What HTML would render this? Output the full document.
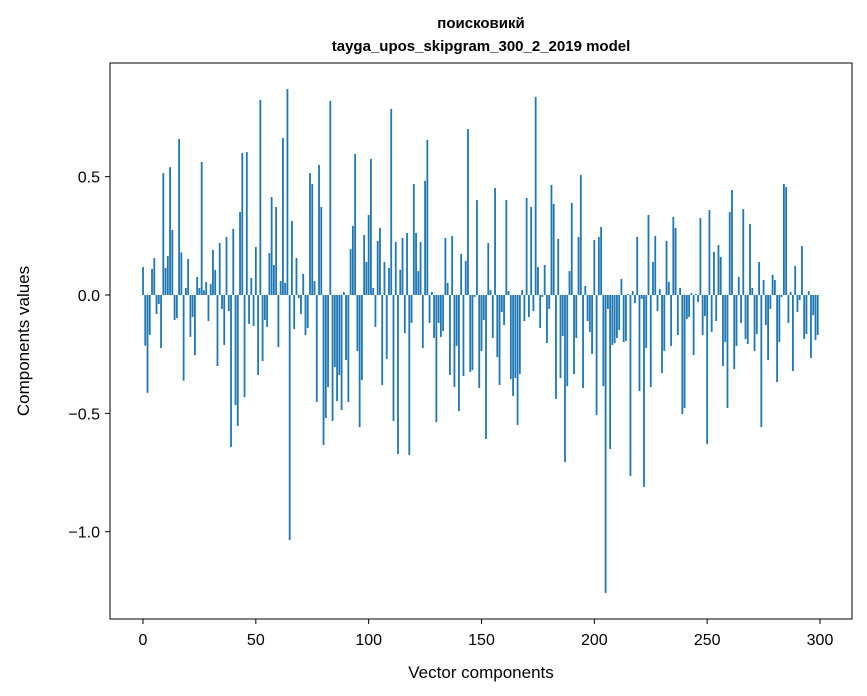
<!DOCTYPE html>
<html><head><meta charset="utf-8"><style>
html,body{margin:0;padding:0;background:#fff;}
svg{display:block;font-family:"Liberation Sans","DejaVu Sans",sans-serif;}
</style></head><body>
<svg id="chart" width="867" height="696">
<text x="481" y="28" text-anchor="middle" font-size="15" font-weight="bold">поисковикй</text>
<text x="481" y="51" text-anchor="middle" font-size="15" font-weight="bold">tayga_upos_skipgram_300_2_2019 model</text>
<g id="bars"></g>
<g id="axes"></g>
<rect x="110" y="63" width="742" height="556" fill="none" stroke="#000" stroke-width="1"/>
<text x="481" y="678" text-anchor="middle" font-size="17">Vector components</text>
<text transform="translate(29,341) rotate(-90)" text-anchor="middle" font-size="17">Components values</text>
</svg>
<script>
const values = [
0.118,-0.214,-0.413,-0.169,0.11,0.156,-0.08,-0.038,-0.224,0.515,
0.114,0.165,0.54,0.275,-0.106,-0.097,0.659,0.18,-0.362,0.03,
0.152,-0.177,-0.093,-0.254,0.076,0.03,0.562,0.02,0.055,-0.11,
0.046,0.19,0.106,-0.3,0.22,-0.059,-0.211,0.245,-0.068,-0.642,
0.279,-0.465,-0.553,0.351,0.6,-0.431,0.604,-0.122,0.072,-0.131,
0.203,-0.338,0.824,-0.279,-0.106,-0.135,0.177,0.414,0.127,0.372,
-0.22,0.059,0.663,0.051,0.87,-1.035,0.313,-0.144,0.156,-0.013,
-0.08,0.089,-0.169,-0.139,0.515,0.469,0.059,-0.452,0.549,0.372,
-0.634,-0.52,-0.389,0.82,-0.532,-0.304,-0.448,-0.338,-0.486,0.013,
-0.275,-0.452,0.194,0.292,0.596,-0.237,-0.558,-0.359,0.254,0.139,
0.338,0.575,0.03,-0.135,0.228,0.283,-0.38,0.139,-0.27,0.114,
0.786,-0.532,0.224,-0.672,0.106,0.241,-0.161,0.262,-0.676,-0.118,
0.469,0.262,0.101,0.224,-0.224,0.482,0.655,-0.118,0.013,-0.182,
-0.537,-0.118,-0.177,-0.152,0.241,0.051,-0.338,0.249,-0.389,-0.215,
-0.49,0.173,-0.342,0.144,0.701,-0.325,-0.317,-0.008,0.401,-0.393,
-0.237,-0.106,-0.608,0.22,0.021,-0.182,0.452,-0.262,-0.38,-0.072,
-0.127,0.401,0.017,-0.355,-0.427,-0.351,-0.549,-0.334,0.021,-0.11,
0.41,-0.093,0.372,-0.068,0.837,0.118,-0.139,-0.008,0.127,-0.203,
-0.059,0.465,0.385,-0.439,0.237,-0.351,-0.173,-0.706,-0.385,0.101,
0.389,-0.334,-0.182,0.245,0.507,-0.393,0.038,-0.11,-0.156,-0.249,
0.232,-0.507,0.245,0.287,-0.385,-1.259,-0.059,-0.651,-0.211,-0.203,
-0.182,-0.148,0.068,-0.199,-0.194,0.004,-0.765,0.017,-0.034,0.245,
-0.406,-0.017,-0.811,-0.224,0.338,-0.389,0.139,0.249,-0.068,0.025,
-0.33,-0.237,0.228,0.055,-0.215,0.33,0.283,-0.169,0.03,-0.503,
-0.477,-0.101,-0.093,0.008,-0.254,0.004,-0.03,0.325,-0.169,-0.089,
-0.63,0.359,-0.156,0.182,-0.11,0.211,0.161,-0.3,-0.199,-0.477,
0.351,0.444,-0.313,-0.215,0.076,-0.118,0.363,-0.186,-0.207,0.3,
0.03,-0.237,-0.165,0.139,-0.558,0.063,-0.127,-0.275,-0.059,0.085,
0.063,-0.368,-0.199,-0.008,0.469,0.456,-0.118,0.013,-0.321,0.123,
-0.072,-0.021,0.207,-0.186,-0.165,0.017,-0.266,-0.085,-0.19,-0.169
];
const xTicks = [0,50,100,150,200,250,300];
const yTicks = [0.5,0.0,-0.5,-1.0];
const yTickLabels = ["0.5","0.0","\u22120.5","\u22121.0"];

const NS = "http://www.w3.org/2000/svg";
function xs(v){ return 143 + v*(677/300); }
function ys(v){ return 295 - v*236.7; }
const barsG = document.getElementById('bars');
values.forEach((v,i)=>{
  const r = document.createElementNS(NS,'rect');
  const x0 = xs(i-0.4), x1 = xs(i+0.4);
  const y0 = Math.min(ys(v), ys(0)), y1 = Math.max(ys(v), ys(0));
  r.setAttribute('x', x0); r.setAttribute('width', x1-x0);
  r.setAttribute('y', y0); r.setAttribute('height', Math.max(y1-y0,0.3));
  r.setAttribute('fill', '#1f77b4');
  
  
  barsG.appendChild(r);
});
const axesG = document.getElementById('axes');
xTicks.forEach(t=>{
  const l = document.createElementNS(NS,'line');
  l.setAttribute('x1', xs(t)); l.setAttribute('x2', xs(t));
  l.setAttribute('y1', 619); l.setAttribute('y2', 624);
  l.setAttribute('stroke', '#000');
  
  
  axesG.appendChild(l);
  const tx = document.createElementNS(NS,'text');
  tx.setAttribute('x', xs(t)); tx.setAttribute('y', 645);
  tx.setAttribute('text-anchor', 'middle'); tx.setAttribute('font-size', '16');
  tx.textContent = String(t);
  
  
  axesG.appendChild(tx);
});
yTicks.forEach((t,k)=>{
  const l = document.createElementNS(NS,'line');
  l.setAttribute('x1', 105); l.setAttribute('x2', 110);
  l.setAttribute('y1', ys(t)); l.setAttribute('y2', ys(t));
  l.setAttribute('stroke', '#000');
  
  
  axesG.appendChild(l);
  const tx = document.createElementNS(NS,'text');
  tx.setAttribute('x', 100); tx.setAttribute('y', ys(t)+6);
  tx.setAttribute('text-anchor', 'end'); tx.setAttribute('font-size', '16');
  tx.textContent = yTickLabels[k];
  
  
  axesG.appendChild(tx);
});
</script>
</body></html>
